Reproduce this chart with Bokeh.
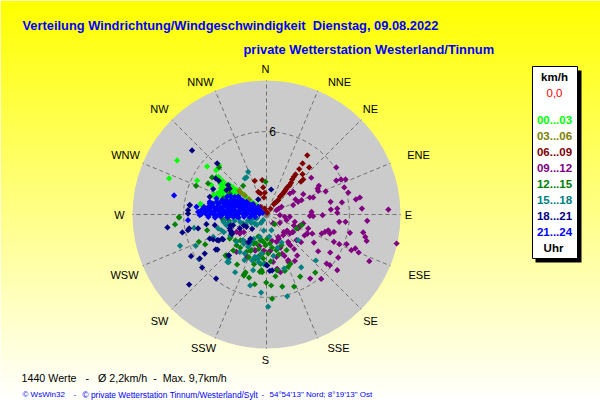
from bokeh.embed import file_html
from bokeh.resources import INLINE
from bokeh.plotting import figure
from bokeh.models import Range1d
from bokeh.core.properties import value
import math

# ---- chart data: wind vector east / north in km/h, by time of day ----
hours = ["00...03", "03...06", "06...09", "09...12", "12...15", "15...18", "18...21", "21...24"]
colors = ["#00ff00", "#808000", "#800000", "#800080", "#008000", "#008080", "#000080", "#0000ff"]
directions = ["N", "NNE", "NE", "ENE", "E", "ESE", "SE", "SSE", "S", "SSW", "SW", "WSW", "W", "WNW", "NW", "NNW"]
max_speed = 9.7
ring_speed = 6

h00 = [(-6.47,3.91),(-7.05,2.61),(-4.30,3.48),(-3.43,3.57),(-3.65,3.21),(-5.02,2.46),(-3.62,2.73),(-3.99,2.13),
       (-3.86,1.40),(-3.57,1.52),(-3.38,1.64),(-3.14,1.33),(-2.90,1.28),(-4.71,0.68),(-2.66,2.13),(-2.42,1.96),
       (-2.17,1.76),(-1.93,1.62),(-1.69,1.47),(-1.45,1.23),(-1.21,1.04),(-0.97,0.85),(-0.72,0.68),(-0.43,0.36),
       (-3.26,2.13),(-3.02,0.92),(-3.50,0.92),(-2.66,1.16),(-2.29,1.28),(-3.86,0.80),
       (-3.45,2.70),(-3.21,2.46),(-2.97,2.22),(-3.33,2.22),(-2.85,1.74),(-2.61,1.38),(-2.37,1.14),(-2.85,1.14),
       (-3.21,1.01),(-3.45,1.38),(-2.49,1.86),(-2.12,1.74),(-1.88,1.50),(-4.78,0.77),(-3.09,1.86),
       (-3.30,1.90),(-3.15,1.60),(-2.75,1.50),(-2.45,1.58),(-2.25,1.50),(-3.60,1.30)]
h03 = [(-1.98,1.71),(-1.86,1.57),(-1.57,1.38),(-1.26,1.09),(-0.92,0.75),(-0.60,0.51),(-0.29,0.22)]
h06 = [(2.95,4.28),(2.61,3.70),(2.37,3.29),(3.09,3.41),(2.61,2.92),(2.66,2.54),(2.49,2.37),(2.10,2.90),(1.98,2.73),
       (1.86,2.54),(1.69,2.13),(1.50,1.96),(1.33,1.71),(1.16,1.47),(0.97,1.28),(0.85,1.04),(0.53,0.75),(0.29,0.41),
       (0.05,0.12),(-0.85,2.44),(-0.31,2.49),(-0.24,1.96),(-0.60,1.64),(-0.43,1.52),(-0.19,1.23),(-0.12,1.57),
       (-0.43,0.56),(-0.12,0.43),(0.0,0.19),(1.78,2.30),(1.60,2.05),(1.42,1.84),(1.25,1.60),(1.06,1.38),(0.75,0.95),(0.62,0.85)]
h09 = [(5.05,3.41),(5.05,2.46),(5.39,2.54),(5.72,2.54),(5.63,1.96),(5.92,1.59),(3.79,2.08),(3.70,1.88),(3.74,1.71),
       (4.28,1.67),(3.24,2.66),(2.66,1.47),(2.10,1.09),(2.29,0.92),(2.54,1.04),(3.14,1.23),(3.38,1.23),(4.64,0.92),
       (5.46,0.87),(6.76,1.23),(6.47,1.09),(6.91,0.43),(8.82,0.36),(4.66,0.36),(5.12,0.43),(1.69,1.52),(1.93,1.64),
       (1.09,0.56),(0.89,0.43),(0.72,0.31),(4.06,-0.05),(5.12,0.12),(7.29,-0.46),(5.27,-0.53),(5.72,-0.53),
       (6.04,-1.33),(7.00,-1.30),(7.15,-1.62),(7.25,-1.91),(9.42,-2.10),(7.44,-3.38),(6.14,-2.58),(6.43,-2.46),
       (6.67,-2.75),(4.88,-1.98),(5.27,-2.15),(5.80,-2.15),(3.43,-2.03),(3.74,-2.66),(4.61,-2.75),(5.19,-3.12),
       (4.35,-3.55),(4.59,-3.67),(5.12,-4.03),(3.96,-4.66),(3.16,-4.64),(4.23,-1.26),(4.47,-1.14),(4.88,-1.26),
       (4.59,-1.38),(3.99,-1.38),(3.31,-1.38),(2.95,-1.38),(3.02,-1.01),(2.29,-1.01),(1.93,-1.26),(1.69,-1.38),
       (1.45,-1.26),(0.97,-0.60),(1.33,-0.17),(1.45,-0.41),(1.69,-0.17),(2.05,-0.53),(2.66,-0.65),(3.14,-0.10),
       (3.38,-0.12),(2.17,-1.86),(1.57,-1.98),(1.21,-1.50),(0.85,-1.62),(0.72,-1.98),(0.48,-0.65),(-0.85,-2.58),
       (-2.17,-2.71),(-1.40,-3.07),(0.48,-3.43),(0.72,-3.07),(1.57,-3.31),(2.05,-3.36),(-1.57,-1.98),(-1.33,-2.10),
       (-1.93,-1.38),(-2.17,-1.26),(0.97,-0.05),(3.26,0.19),(1.93,0.68),
       (-1.64,-1.28),(-1.88,-1.28),(1.25,-1.28),(1.49,-1.16),(1.87,-1.28),(2.75,-1.52),(2.95,-1.38),(0.89,-1.76),
       (1.74,-2.24),(1.62,-2.12),(-0.20,-2.61),(0.29,-2.61),(-0.80,-2.61),(0.77,-3.93),(1.01,-4.18),(2.22,-2.97),
       (1.14,-2.85),(1.62,-3.45),(0.17,-2.73),(2.34,-0.90),(1.98,-0.80),(2.44,-0.80),
       (1.00,-2.40),(1.30,-3.00),(0.40,-1.90),(-0.50,-2.30),(2.50,-2.00),(2.00,-2.50)]
h12 = [(-6.33,-0.22),(-6.62,-0.72),(-4.30,-1.14),(-4.90,-1.98),(-4.44,-2.17),(-2.90,-2.95),(-2.13,-3.62),(-1.57,-4.28),
       (-1.26,-4.57),(-0.85,-5.05),(-0.02,-4.93),(0.34,-5.14),(1.14,-5.22),(2.00,-5.22),(0.41,-6.09),(2.44,-4.49),
       (3.53,-4.20),(0.65,-4.47),(-0.48,-4.15),(-0.36,-4.03),(1.57,-3.79),(1.33,-4.08),(0.72,-2.58),(1.45,-2.58),
       (-0.24,-3.19),(-0.12,-3.55),(-0.72,-2.10),(-0.97,-1.98),(-0.36,-1.86),(0.24,-2.10),(-2.66,-1.74),(-2.17,-2.22),
       (-1.45,-2.71),(-3.14,-0.41),(-2.71,-0.46),(2.54,-0.77),(2.17,-1.01),(0.60,-0.70),(-1.09,-2.58),(-0.48,-2.95),
       (0.12,-2.83),(1.09,-2.22),(-3.43,3.41),(-1.69,2.08),(-4.23,2.25),(-5.10,2.08),(-3.94,2.68),(-0.07,2.37),
       (-6.33,-0.19),(-2.66,1.52),(-2.42,0.80),(-1.45,0.56),(-3.14,1.16),
       (-0.92,-2.12),(-0.43,-1.88),(0.05,-1.76),(-1.16,-2.61),(-0.56,-2.49),(-0.07,-2.24),(-0.31,-2.85),(-0.43,-3.57),
       (-0.31,-4.18),(-1.64,-4.42),(-1.52,-4.18),(-2.24,-1.88),(-1.88,-1.88),(-2.61,-1.64),(-2.97,-2.97),(0.77,-4.05),
       (1.74,-3.57),(-1.28,-3.09),(-0.80,-3.21),
       (-0.60,-1.60),(-0.20,-2.00),(0.40,-2.40),(0.90,-2.90),(-0.90,-3.60),(0.30,-3.40),(-1.90,-2.40),(-2.40,-2.60)]
h15 = [(-6.26,-2.27),(-5.12,-2.27),(-4.88,-3.24),(-5.24,-0.97),(-2.83,-3.43),(-2.27,-4.18),(-1.18,-5.14),(-0.39,-5.65),
       (1.50,-5.92),(0.12,-6.67),(3.57,-3.33),(2.51,-3.82),(-0.97,-4.03),(1.28,-3.91),(-0.60,-3.19),(-1.93,-2.71),
       (-1.57,-2.83),(-3.50,-1.01),(-3.86,-1.62),(1.09,-2.03),(2.29,-1.86),(0.36,-1.14),(-0.48,-1.62),(-1.21,-1.86),
       (-1.69,-1.86),(-0.85,-0.65),(-0.24,-0.41),(-3.74,-0.17),(-0.85,-3.07),(-0.36,-2.83),(-1.33,-2.34),(-2.17,-1.98),
       (-3.26,-1.14),(-2.90,-0.77),(-1.69,-0.65),(-1.33,-0.41),(-0.72,-0.29),(-0.48,0.19),(-1.33,3.09),(-1.45,2.68),
       (-1.57,2.61),(-3.10,-0.55),(-2.70,-0.60),(-2.30,-0.45),(-1.90,-0.55),(-1.50,-0.70),(-1.10,-0.60),(-0.70,-0.75),
       (-0.40,-0.60),(-2.90,-0.25),(-1.00,-0.30),(-0.67,-3.09),(-0.56,-3.45),(-1.04,-3.33),(-1.16,-2.12),(-1.64,-2.12),
       (-0.20,-1.16),(-0.92,-1.76),(-2.73,-3.45),(-2.73,-3.21),(-3.09,-1.28),(-2.61,-1.52),
       (0.20,-1.60),(0.80,-2.40),(-0.20,-3.60),(0.50,-3.00),(-1.60,-3.30)]
h18 = [(-5.39,4.64),(-3.57,3.70),(0.34,1.81),(-3.67,2.61),(-3.45,2.44),(-2.78,2.13),(-2.66,1.88),(-4.11,1.28),(-5.56,0.68),
       (-5.68,0.31),(-3.86,1.84),(-2.90,1.76),(-0.60,1.09),(-5.60,-5.07),(-3.65,-4.64),(-4.66,-3.84),(-4.83,-3.19),
       (-4.47,-2.83),(-5.46,-3.02),(-3.55,-2.54),(-3.67,-2.54),(-7.17,-0.94),(-6.09,-1.30),(-5.68,-1.14),(-5.60,-1.01),
       (-4.95,-1.01),(-4.35,-0.70),(-4.11,-1.74),(-3.57,-1.86),(-3.86,-1.81),(-3.14,-1.81),(-2.66,-1.01),(-2.54,-1.26),
       (-2.54,-1.38),(-2.42,-0.77),(-5.68,0.07),(-5.56,0.68),(0.24,-4.08),(0.0,-3.67),(-2.73,-2.95),(-1.45,-0.89),
       (-1.93,-1.01),(-3.74,-0.77),(-2.61,-1.16),(-2.48,-1.40),(-2.61,-0.80),(-1.16,-1.76),(-1.28,-2.00),(-3.21,-1.76),
       (-3.45,-1.88),(-1.04,-1.04),(-1.64,-0.80),(0.05,-3.69),(0.41,-4.05),(-2.73,-2.97)]
h21 = [(-6.69,1.38),(-5.68,-0.41),(-4.95,0.19),(-4.83,-0.05),(-5.07,0.56),(-4.47,0.43),(-4.71,0.31),(-4.11,0.31),(-3.99,0.56),
       (-3.86,0.07),(-3.62,0.36),(-3.50,0.68),(-3.38,0.31),(-3.14,0.92),(-3.14,0.07),(-2.90,0.19),(-2.66,0.80),(-2.66,0.43),
       (-2.42,0.31),(-2.17,0.68),(-2.17,0.19),(-1.93,0.31),(-1.81,0.80),(-1.69,0.56),(-1.45,0.19),(-1.33,0.56),(-1.09,0.31),
       (-0.97,0.07),(-0.85,0.43),(-0.60,0.56),(-0.48,0.31),(-0.29,0.12),(-2.42,0.92),(-2.78,-0.17),(-4.11,0.80),(-3.38,-0.05),
       (-4.23,-0.05),(-1.57,-0.05),(-2.17,-0.12),(-2.66,-0.05),(-3.62,0.92),(-2.90,0.68),(-1.45,0.92),(-0.97,0.75),(-1.93,1.16),
       (-4.11,0.92),(-3.62,1.16),
       (-3.20,1.05),(-2.90,1.02),(-2.55,1.08),(-2.30,1.04),(-2.02,1.07),(-1.72,1.01),
       (-3.92,0.78),(-3.42,0.83),(-3.08,0.76),(-2.78,0.82),(-2.48,0.77),(-2.21,0.85),(-1.92,0.78),(-1.58,0.83),(-1.28,0.77),(-1.10,0.70),
       (-4.52,0.55),(-4.18,0.58),(-3.80,0.52),(-3.48,0.57),(-3.22,0.50),(-2.88,0.55),(-2.61,0.58),(-2.33,0.52),(-2.02,0.56),(-1.72,0.50),(-1.41,0.54),(-1.12,0.51),(-0.82,0.48),
       (-4.62,0.28),(-4.30,0.32),(-4.02,0.25),(-3.70,0.30),(-3.41,0.26),(-3.12,0.32),(-2.81,0.28),(-2.52,0.30),(-2.22,0.24),(-1.91,0.28),(-1.62,0.32),(-1.32,0.27),(-1.02,0.30),(-0.71,0.26),(-0.42,0.21),
       (-4.70,0.04),(-4.42,0.08),(-4.10,0.02),(-3.81,0.06),(-3.52,0.00),(-3.22,0.05),(-2.92,0.02),(-2.62,0.06),(-2.31,0.02),(-2.02,0.05),(-1.72,0.03),(-1.41,0.06),(-1.12,0.01),(-0.82,0.05),(-0.52,0.03),
       (-4.21,-0.18),(-3.72,-0.22),(-3.31,-0.16),(-2.82,-0.21),(-2.42,-0.18),(-2.02,-0.22),(-1.62,-0.17),(-1.21,-0.20),(-0.82,-0.18),
       (-2.85,1.30),(-2.60,1.34),(-2.30,1.28),(-2.05,1.30)]
series = [h00, h03, h06, h09, h12, h15, h18, h21]

# ---- layout ----
cx, cy, radius_px = 266, 214, 134
px_per_kmh = radius_px / max_speed

p = figure(width=600, height=415, output_backend="svg", toolbar_location=None,
           x_range=Range1d(0, 600), y_range=Range1d(415, 0), min_border=0,
           x_axis_type=None, y_axis_type=None, outline_line_color=None)
p.grid.visible = False
p.extra_x_ranges["kmh"] = Range1d((0 - cx) / px_per_kmh, (600 - cx) / px_per_kmh)
p.extra_y_ranges["kmh"] = Range1d((cy - 415) / px_per_kmh, (cy - 0) / px_per_kmh)
K = dict(x_range_name="kmh", y_range_name="kmh")

# gradient page background (strips overlap to avoid seams)
tops = list(range(0, 415, 3))
bottoms = [t + 4 for t in tops]
fills = ["#ffff%02x" % min(255, int(255 * (t + 1.5) / 400)) for t in tops]
p.quad(left=0, right=600, top=tops, bottom=bottoms, fill_color=fills, line_color=None)

# dial
p.circle(x=[0], y=[0], radius=max_speed, fill_color="#cbcbcb", line_color=None, **K)
angles = [math.radians(22.5 * i) for i in range(16)]
p.multi_line(xs=[[0, max_speed * math.sin(a)] for a in angles],
             ys=[[0, max_speed * math.cos(a)] for a in angles],
             line_color="#707070", line_width=1, line_dash="4 3", **K)
p.circle(x=[0], y=[0], radius=ring_speed, fill_color=None, line_color="#707070", line_width=1, line_dash="4 3", **K)

# points
for pts, col in zip(series, colors):
    p.scatter(x=[q[0] for q in pts], y=[q[1] for q in pts], marker="square", size=4.4, angle=math.pi / 4,
              fill_color=col, line_color=None, **K)

def txt(x, y, s, color="black", size="12px", style="normal", align="left", font="Liberation Sans"):
    p.text(x=[x], y=[y], text=[s.replace(" ", "\u00a0")], text_color=color, text_font_size=size, text_font_style=style,
           text_align=align, text_baseline="middle", text_font=value(font))

# direction labels
label_x = [265, 339, 370, 418, 408, 419, 370, 338, 265, 203, 159, 124, 119, 125, 159, 200]
label_y = [68, 81, 108, 154, 214, 274, 320, 347, 359, 347, 320, 274, 214, 154, 108, 81]
for lx, ly, d in zip(label_x, label_y, directions):
    txt(lx, ly, d, align="center", size="11px")
txt(272, 131, str(ring_speed), align="center", size="12px")

# titles
txt(22, 25, "Verteilung Windrichtung/Windgeschwindigkeit  Dienstag, 09.08.2022", "#0000ff", "12.85px", "bold")
txt(243, 49, "private Wetterstation Westerland/Tinnum", "#0000ff", "12.9px", "bold")

# legend box
p.quad(left=[535], right=[581], top=[70], bottom=[262], fill_color="black", line_color=None)
p.quad(left=[532], right=[577], top=[66], bottom=[258], fill_color="white", line_color="black", line_width=1)
txt(554, 76, "km/h", size="11.5px", style="bold", align="center")
txt(554, 92, "0,0", "#ff0000", "11.5px", align="center")
leg_y = [119, 135, 151, 167, 183, 199, 215, 231]
for ly, h, c in zip(leg_y, hours, colors):
    txt(554, ly, h, c, "11.5px", "bold", "center")
txt(553, 247, "Uhr", size="11.5px", style="bold", align="center")

# footer
txt(21, 377, "1440 Werte   -   \u00d8 2,2km/h  -  Max. 9,7km/h", size="10.7px")
txt(22, 394, "\u00a9 WsWin32", "#0000ff", "8px")
txt(73, 394, "-", "#0000ff", "8px")
txt(82, 394, "\u00a9 private Wetterstation Tinnum/Westerland/Sylt", "#0000ff", "8.35px")
txt(261, 394, "-", "#0000ff", "8px")
txt(269, 394, "54\u00b054'13\" Nord; 8\u00b019'13\" Ost", "#0000ff", "8px")

open("out.html", "w").write(file_html(p, INLINE))
